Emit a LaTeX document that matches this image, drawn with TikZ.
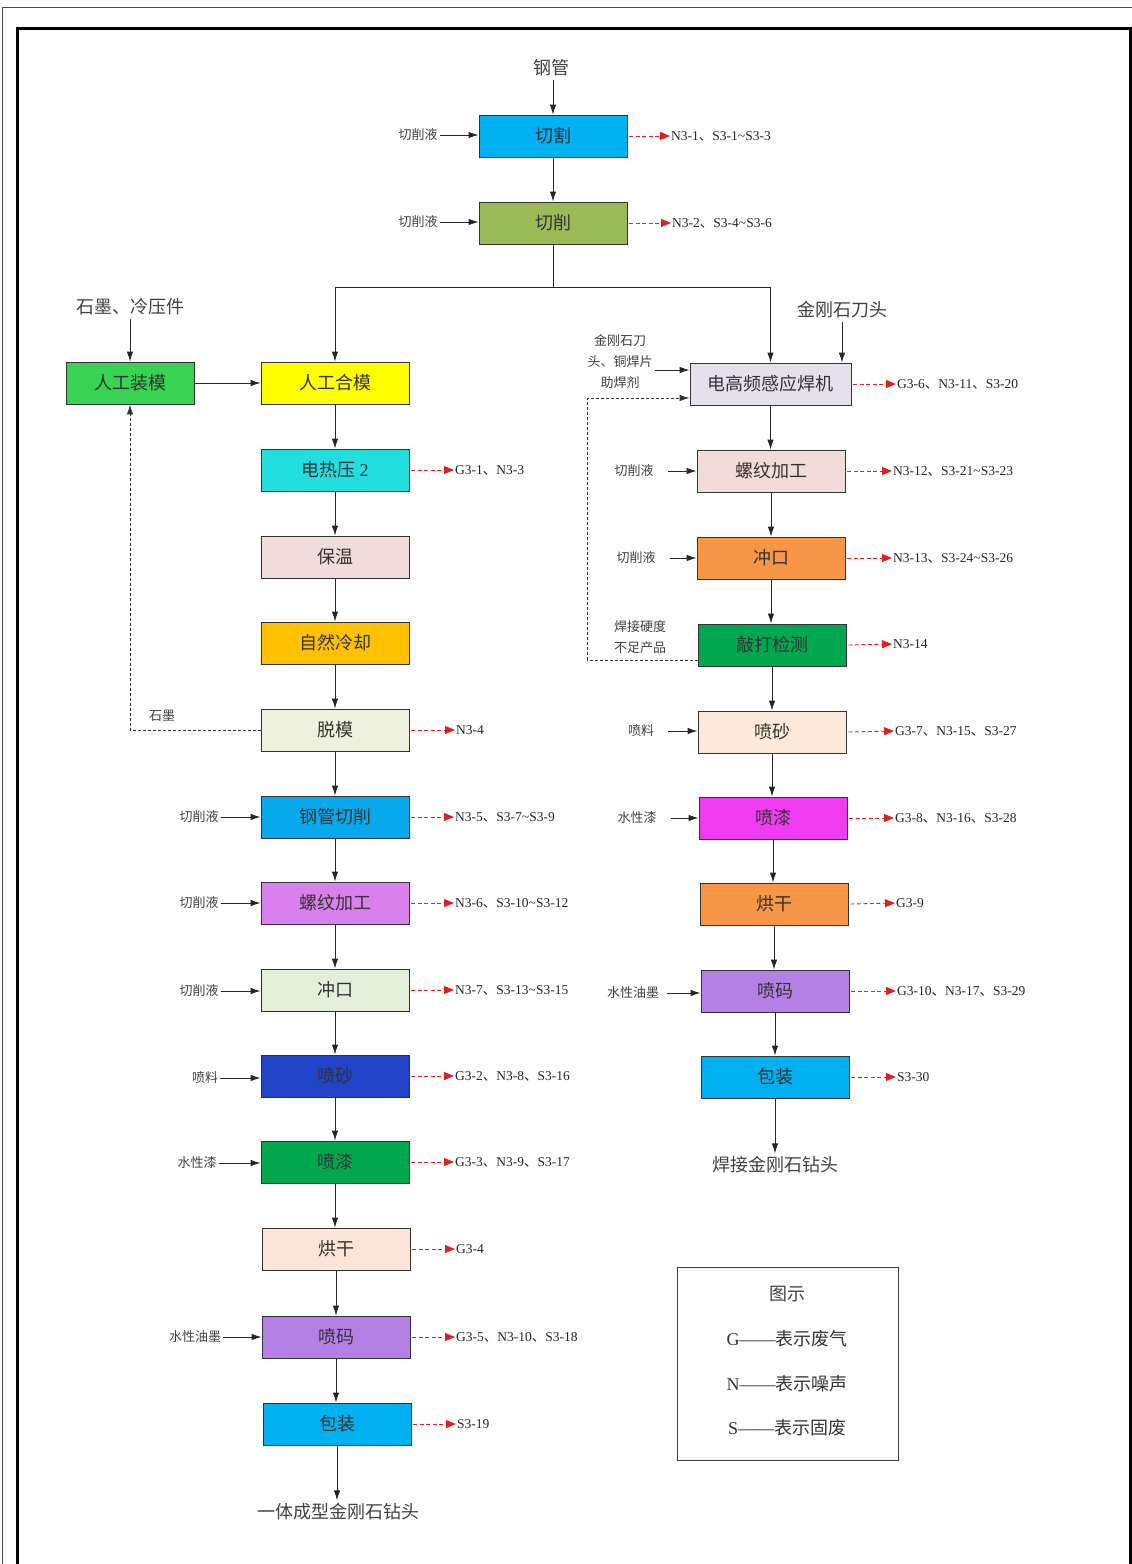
\documentclass[tikz,border=0pt]{standalone}
\usepackage{fontspec}
\setmainfont{Liberation Serif}
\newfontfamily\cjk{Noto Sans CJK SC}
\usetikzlibrary{arrows.meta}
\newcommand\dun{{\cjk 、}}
\newcommand\swung{\textasciitilde}

% box fills
\definecolor{cQG}{HTML}{00B0F0}
\definecolor{cQX}{HTML}{9BBB59}
\definecolor{cZM}{HTML}{38D352}
\definecolor{cHM}{HTML}{FFFF00}
\definecolor{cDR}{HTML}{22DEDE}
\definecolor{cBW}{HTML}{F2DCDB}
\definecolor{cLQ}{HTML}{FFC000}
\definecolor{cTM}{HTML}{EEF1DE}
\definecolor{cGQ}{HTML}{08A8EC}
\definecolor{cLW}{HTML}{DA80EC}
\definecolor{cCK}{HTML}{E4EFDA}
\definecolor{cPSd}{HTML}{2143C8}
\definecolor{cGR}{HTML}{00A74F}
\definecolor{cHG}{HTML}{FCE4D6}
\definecolor{cPM}{HTML}{B580E6}
\definecolor{cHF}{HTML}{E6E0EC}
\definecolor{cOR}{HTML}{F79646}
\definecolor{cPSl}{HTML}{FDE9D9}
\definecolor{cMG}{HTML}{F03CF0}
\definecolor{cRed}{HTML}{E02020}

\tikzset{
  box/.style={draw=black!80, line width=0.9pt, minimum width=148pt, minimum height=42pt,
    inner sep=0pt, font=\cjk\fontsize{18}{21}\selectfont, text=black!80},
  inlbl/.style={font=\cjk\fontsize{13}{21}\selectfont, text=black!75, inner sep=2pt, align=center},
  outlbl/.style={font=\fontsize{13.5}{16}\selectfont, text=black!85, inner sep=1pt, anchor=west},
  biglbl/.style={font=\cjk\fontsize{18}{22}\selectfont, text=black!75, inner sep=3pt},
  arr/.style={draw=black!85, line width=0.9pt, -{Latex[length=10pt,width=6.5pt]}},
  plain/.style={draw=black!85, line width=0.9pt},
  oarr/.style={draw=cRed, line width=0.9pt, dash pattern=on 4pt off 2.5pt,
    -{Triangle[length=10pt,width=8pt]}},
  fb/.style={draw=black!80, line width=0.9pt, dash pattern=on 3pt off 2pt,
    -{Latex[length=10pt,width=6.5pt]}},
  legitem/.style={font=\fontsize{18}{21}\selectfont, text=black!80},
}

\begin{document}
\begin{tikzpicture}[x=1pt,y=-1pt]
\useasboundingbox (0,0) rectangle (1132,1564);
% page frame
\draw[line width=1.5pt, black!70] (2.5,1575) -- (2.5,7.5) -- (1145,7.5);
\draw[line width=3pt] (17.5,1575) -- (17.5,28) -- (1130,28) -- (1130,1575);

% ---------- common head ----------
\node[biglbl] (gg) at (551,68) {钢管};
\node[box, fill=cQG] (qg) at (553,136) {切割};
\node[box, fill=cQX] (qx) at (553,223) {切削};
\node[inlbl] (iqg) at (418,135) {切削液};
\node[inlbl] (iqx) at (418,222) {切削液};
\node[outlbl] (oqg) at (670,136) {N3-1\dun S3-1\swung S3-3};
\node[outlbl] (oqx) at (671,223) {N3-2\dun S3-4\swung S3-6};
\draw[arr] (qg.north |- gg.south) -- (qg.north);
\draw[arr] (qg.south) -- (qx.north);
\draw[arr] (iqg.east) -- (iqg.east -| qg.west);
\draw[arr] (iqx.east) -- (iqx.east -| qx.west);
\draw[oarr] ([xshift=2pt]qg.east) -- (oqg.west);
\draw[oarr] ([xshift=2pt]qx.east) -- (oqx.west);

% ---------- left line: one-piece bits ----------
\node[biglbl] (sm) at (130,307) {石墨、冷压件};
\node[box, fill=cZM, minimum width=128pt] (zm) at (130,383) {人工装模};
\node[box, fill=cHM] (hm) at (335,383) {人工合模};
\node[box, fill=cDR] (dr) at (335,470) {电热压 \rmfamily 2};
\node[box, fill=cBW] (bw) at (335,557) {保温};
\node[box, fill=cLQ] (lq) at (335,643) {自然冷却};
\node[box, fill=cTM] (tm) at (335,730) {脱模};
\node[box, fill=cGQ] (gq) at (335,817) {钢管切削};
\node[box, fill=cLW] (lw) at (335,903) {螺纹加工};
\node[box, fill=cCK] (ck) at (335,990) {冲口};
\node[box, fill=cPSd] (ps) at (335,1076) {喷砂};
\node[box, fill=cGR] (pq) at (335,1162) {喷漆};
\node[box, fill=cHG] (hg) at (336,1249) {烘干};
\node[box, fill=cPM] (pm) at (336,1337) {喷码};
\node[box, fill=cQG] (bz) at (337,1424) {包装};
\node[biglbl] (prod1) at (338,1512) {一体成型金刚石钻头};

\coordinate (br) at (553,287);
\draw[plain] (qx.south) -- (br);
\draw[arr] (br) -| (hm.north);
\draw[arr] (sm.south -| zm.north) -- (zm.north);
\draw[arr] (zm.east) -- (hm.west);
\draw[arr] (hm.south) -- (dr.north);
\draw[arr] (dr.south) -- (bw.north);
\draw[arr] (bw.south) -- (lq.north);
\draw[arr] (lq.south) -- (tm.north);
\draw[arr] (tm.south) -- (gq.north);
\draw[arr] (gq.south) -- (lw.north);
\draw[arr] (lw.south) -- (ck.north);
\draw[arr] (ck.south) -- (ps.north);
\draw[arr] (ps.south) -- (pq.north);
\draw[arr] (pq.south) -- (pq.south |- hg.north);
\draw[arr] (hg.south) -- (hg.south |- pm.north);
\draw[arr] (pm.south) -- (pm.south |- bz.north);
\draw[arr] (bz.south) -- (bz.south |- prod1.north);

% graphite returned to mould loading
\draw[fb] (tm.west) -| (zm.south);
\node[inlbl] (smr) at (162,716) {石墨};

% left inputs
\node[inlbl] (igq) at (199,817) {切削液};
\node[inlbl] (ilw) at (199,903) {切削液};
\node[inlbl] (ick) at (199,991) {切削液};
\node[inlbl] (ips) at (205,1078) {喷料};
\node[inlbl] (ipq) at (197,1163) {水性漆};
\node[inlbl] (ipm) at (195,1337) {水性油墨};
\draw[arr] (igq.east) -- (igq.east -| gq.west);
\draw[arr] (ilw.east) -- (ilw.east -| lw.west);
\draw[arr] (ick.east) -- (ick.east -| ck.west);
\draw[arr] (ips.east) -- (ips.east -| ps.west);
\draw[arr] (ipq.east) -- (ipq.east -| pq.west);
\draw[arr] (ipm.east) -- (ipm.east -| pm.west);

% left emissions
\node[outlbl] (odr) at (454,470) {G3-1\dun N3-3};
\node[outlbl] (otm) at (455,730) {N3-4};
\node[outlbl] (ogq) at (454,817) {N3-5\dun S3-7\swung S3-9};
\node[outlbl] (olw) at (454,903) {N3-6\dun S3-10\swung S3-12};
\node[outlbl] (ock) at (454,990) {N3-7\dun S3-13\swung S3-15};
\node[outlbl] (ops) at (454,1076) {G3-2\dun N3-8\dun S3-16};
\node[outlbl] (opq) at (454,1162) {G3-3\dun N3-9\dun S3-17};
\node[outlbl] (ohg) at (455,1249) {G3-4};
\node[outlbl] (opm) at (455,1337) {G3-5\dun N3-10\dun S3-18};
\node[outlbl] (obz) at (456,1424) {S3-19};
\foreach \b/\o in {dr/odr, tm/otm, gq/ogq, lw/olw, ck/ock, ps/ops, pq/opq, hg/ohg, pm/opm, bz/obz}
  \draw[oarr] ([xshift=2pt]\b.east) -- (\o.west);

% ---------- right line: welded bits ----------
\node[biglbl] (jg) at (842,310) {金刚石刀头};
\node[box, fill=cHF, minimum width=161pt] (hf) at (770.5,384) {电高频感应焊机};
\node[box, fill=cBW] (lw2) at (771,471) {螺纹加工};
\node[box, fill=cOR] (ck2) at (771,558) {冲口};
\node[box, fill=cGR] (qd) at (772,645) {敲打检测};
\node[box, fill=cPSl] (ps2) at (772,732) {喷砂};
\node[box, fill=cMG] (pq2) at (773,818) {喷漆};
\node[box, fill=cOR] (hg2) at (774,904) {烘干};
\node[box, fill=cPM] (pm2) at (775,991) {喷码};
\node[box, fill=cQG] (bz2) at (775,1077) {包装};
\node[biglbl] (prod2) at (775,1165) {焊接金刚石钻头};

\draw[arr] (br) -| (hf.north);
\draw[arr] (jg.south) -- (jg.south |- hf.north);
\draw[arr] (hf.south) -- (hf.south |- lw2.north);
\draw[arr] (lw2.south) -- (ck2.north);
\draw[arr] (ck2.south) -- (ck2.south |- qd.north);
\draw[arr] (qd.south) -- (ps2.north);
\draw[arr] (ps2.south) -- (ps2.south |- pq2.north);
\draw[arr] (pq2.south) -- (pq2.south |- hg2.north);
\draw[arr] (hg2.south) -- (hg2.south |- pm2.north);
\draw[arr] (pm2.south) -- (bz2.north);
\draw[arr] (bz2.south) -- (prod2.north);

% welding materials
\node[inlbl] (ihf) at (620,362) {金刚石刀\\头、铜焊片\\助焊剂};
\coordinate (hfin) at ([yshift=14pt]hf.west);
\draw[arr] (ihf.east |- hfin) -- (hfin);

% under-hardness parts sent back to welding
\node[inlbl] (rej) at (640,637) {焊接硬度\\不足产品};
\coordinate (hfback) at ([yshift=-14pt]hf.west);
\draw[fb] ([yshift=-15pt]qd.west) -- ++(-110,0) |- (hfback);

% right inputs
\node[inlbl] (ilw2) at (634,471) {切削液};
\node[inlbl] (ick2) at (636,558) {切削液};
\node[inlbl] (ips2) at (641,731) {喷料};
\node[inlbl] (ipq2) at (637,818) {水性漆};
\node[inlbl] (ipm2) at (633,993) {水性油墨};
\draw[arr] ([xshift=12pt]ilw2.east) -- (ilw2.east -| lw2.west);
\draw[arr] ([xshift=12pt]ick2.east) -- (ick2.east -| ck2.west);
\draw[arr] ([xshift=12pt]ips2.east) -- (ips2.east -| ps2.west);
\draw[arr] ([xshift=12pt]ipq2.east) -- (ipq2.east -| pq2.west);
\draw[arr] ([xshift=6pt]ipm2.east) -- (ipm2.east -| pm2.west);

% right emissions
\node[outlbl] (ohf) at (896,384) {G3-6\dun N3-11\dun S3-20};
\node[outlbl] (olw2) at (892,471) {N3-12\dun S3-21\swung S3-23};
\node[outlbl] (ock2) at (892,558) {N3-13\dun S3-24\swung S3-26};
\node[outlbl] (oqd) at (892,644) {N3-14};
\node[outlbl] (ops2) at (894,731) {G3-7\dun N3-15\dun S3-27};
\node[outlbl] (opq2) at (894,818) {G3-8\dun N3-16\dun S3-28};
\node[outlbl] (ohg2) at (895,903) {G3-9};
\node[outlbl] (opm2) at (896,991) {G3-10\dun N3-17\dun S3-29};
\node[outlbl] (obz2) at (896,1077) {S3-30};
\foreach \b/\o in {hf/ohf, lw2/olw2, ck2/ock2, qd/oqd, ps2/ops2, pq2/opq2, hg2/ohg2, pm2/opm2, bz2/obz2}
  \draw[oarr] ([xshift=2pt]\b.east) -- (\o.west);

% ---------- legend ----------
\node[draw=black!75, line width=1pt, minimum width=221pt, minimum height=193pt] (leg) at (787.5,1363.5) {};
\node[biglbl] (legt) at (787,1294) {图示};
\node[legitem] (legg) at (787,1339) {G——{\cjk 表示废气}};
\node[legitem] (legn) at (787,1384) {N——{\cjk 表示噪声}};
\node[legitem] (legs) at (787,1428) {S——{\cjk 表示固废}};
\end{tikzpicture}
\end{document}
